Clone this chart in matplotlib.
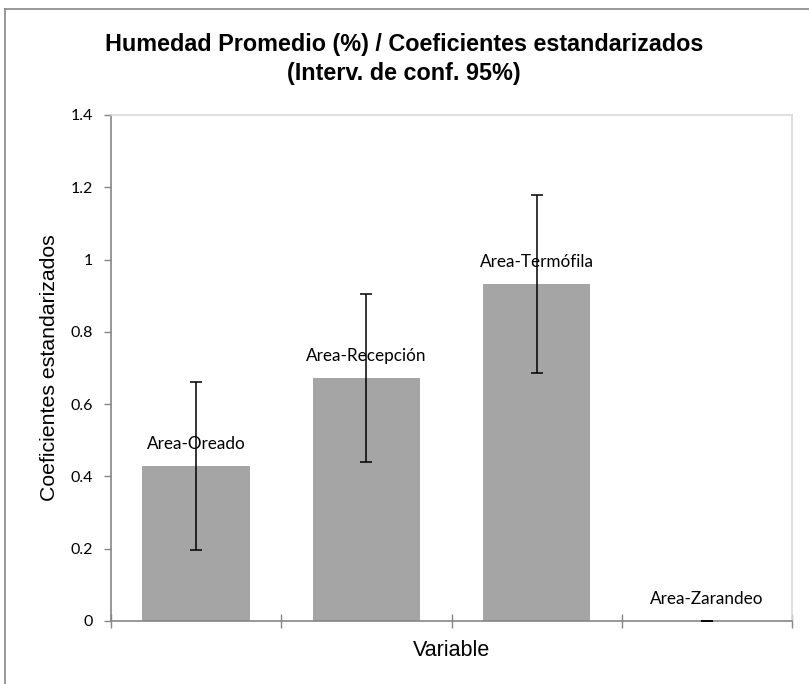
import matplotlib.pyplot as plt
from matplotlib.lines import Line2D

# data
categorias = ['Area-Oreado', 'Area-Recepción', 'Area-Termófila', 'Area-Zarandeo']
coeficientes = [0.429, 0.672, 0.932, 0.0]
intervalo = [0.233, 0.233, 0.247, 0.0]
yticks = [0, 0.2, 0.4, 0.6, 0.8, 1, 1.2, 1.4]
ytick_labels = ['0', '0.2', '0.4', '0.6', '0.8', '1', '1.2', '1.4']

W, H = 809, 684
fig = plt.figure(figsize=(W / 100, H / 100), dpi=100)

# plot area position in pixels
left, right, top, bottom = 111, 792, 115, 621
ax = fig.add_axes([left / W, (H - bottom) / H, (right - left) / W, (bottom - top) / H])

x = list(range(len(categorias)))
ax.bar(x, coeficientes, width=0.63, color='#a5a5a5', zorder=2)
ax.errorbar(x, coeficientes, yerr=intervalo, fmt='none', ecolor='black',
            elinewidth=1.1, capsize=4.5, capthick=1.1, zorder=3)

for xi, v, name in zip(x, coeficientes, categorias):
    ax.annotate(name, (xi, v), xytext=(0, 16), textcoords='offset points',
                ha='center', va='center', fontsize=12.3, family='Lato', zorder=4)

ax.set_xlim(-0.5, len(categorias) - 0.5)
ax.set_ylim(0, 1.4)
ax.set_yticks(yticks)
ax.set_yticklabels(ytick_labels, family='Lato', fontsize=11.5)
ax.set_xticks([i - 0.5 for i in range(len(categorias) + 1)])
ax.set_xticklabels([])
ax.tick_params(axis='y', direction='out', length=5, width=1, color='#868686', pad=8)
ax.tick_params(axis='x', direction='inout', length=10, width=1, color='#868686')

for side in ['left', 'bottom']:
    ax.spines[side].set_color('#868686')
    ax.spines[side].set_linewidth(1.2)
for side in ['top', 'right']:
    ax.spines[side].set_color('#d9d9d9')
    ax.spines[side].set_linewidth(1.2)

ax.set_xlabel('Variable', family='Liberation Sans', fontsize=15.5, labelpad=5)
ax.set_ylabel('Coeficientes estandarizados', family='Liberation Sans', fontsize=15.3, labelpad=8)

fig.text(404 / W, 1 - 59 / H,
         'Humedad Promedio (%) / Coeficientes estandarizados\n(Interv. de conf. 95%)',
         ha='center', va='center', family='Liberation Sans', fontweight='bold',
         fontsize=16.8, linespacing=1.3)

# outer chart frame (cropped at right and bottom)
fig.add_artist(Line2D([4.5 / W, 4.5 / W], [0, 1 - 8.5 / H], transform=fig.transFigure,
                      color='#878787', linewidth=1.2))
fig.add_artist(Line2D([4.5 / W, 1], [1 - 8.5 / H, 1 - 8.5 / H], transform=fig.transFigure,
                      color='#878787', linewidth=1.2))

fig.savefig('out.png', dpi=100)
